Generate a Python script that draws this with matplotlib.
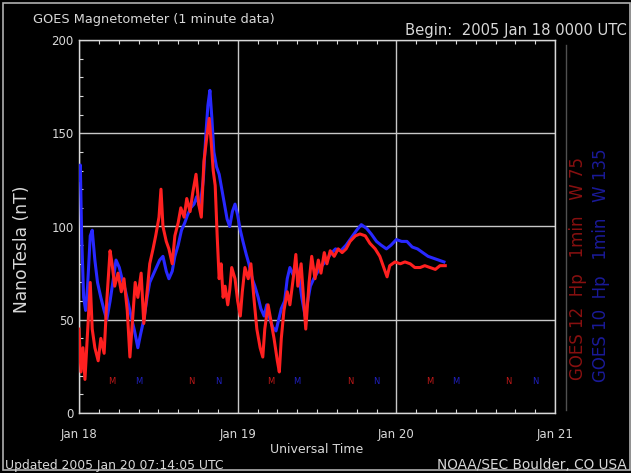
import numpy as np
import matplotlib.pyplot as plt
from matplotlib.ticker import MultipleLocator
from matplotlib.lines import Line2D
from matplotlib.patches import Rectangle

# hours after 2005 Jan 18 00 UT
red_hours = [0, 0.3, 0.6, 0.9, 1.4, 1.7, 2.0, 2.4, 2.9, 3.3, 3.8, 4.2, 4.7, 5.0, 5.4,
             5.9, 6.4, 6.8, 7.3, 7.7, 8.0, 8.5, 8.9, 9.4, 9.8, 10.3, 10.7, 11.2, 11.6,
             12.1, 12.4, 12.7, 13.2, 13.6, 14.1, 14.5, 15.0, 15.4, 15.9, 16.3, 16.8,
             17.2, 17.7, 18.1, 18.5, 18.9, 19.4, 19.7, 20.0, 20.3, 20.6, 20.9, 21.2,
             21.5, 21.8, 22.1, 22.5, 22.8, 23.1, 23.6, 24.0, 24.4, 24.7, 25.1, 25.6,
             26.0, 26.5, 26.9, 27.4, 27.8, 28.1, 28.6, 29.0, 29.5, 30.0, 30.3, 30.6,
             31.0, 31.5, 31.9, 32.4, 32.8, 33.1, 33.6, 34.0, 34.3, 34.8, 35.2, 35.7,
             36.2, 36.6, 37.1, 37.5, 38.0, 38.6, 39.2, 39.8, 40.4, 41.0, 41.8, 42.5,
             43.3, 44.0, 44.8, 45.5, 46.1, 46.6, 47.0, 47.8, 48.6, 49.3, 50.1, 50.8,
             51.6, 52.3, 53.1, 53.9, 54.6, 55.4]
red_nt = [45, 22, 35, 18, 50, 70, 45, 35, 28, 40, 32, 60, 87, 80, 68,
          75, 65, 72, 55, 30, 45, 70, 62, 75, 48, 65, 80, 88, 95,
          105, 120, 100, 92, 88, 80, 95, 102, 110, 105, 115, 108,
          118, 128, 112, 105, 135, 150, 158, 145, 130, 122, 95, 72,
          80, 62, 68, 58, 66, 78, 72, 60, 52, 65, 78, 72,
          80, 60, 45, 35, 30, 45, 58, 50, 40, 28, 22, 40,
          55, 65, 58, 72, 85, 68, 80, 60, 45, 70, 84, 72,
          82, 75, 86, 80, 87, 84, 88, 86, 88, 92, 95, 96,
          95, 91, 88, 84, 78, 73, 79, 81, 80, 81, 80, 78,
          78, 79, 78, 77, 79, 79]

blue_hours = [0, 0.2, 0.4, 0.7, 1.0, 1.3, 1.7, 2.0, 2.4, 2.8, 3.3, 3.8, 4.2, 4.7, 5.2,
              5.6, 6.1, 6.5, 7.0, 7.5, 8.0, 8.4, 8.9, 9.3, 9.8, 10.3, 10.7, 11.2, 11.7,
              12.2, 12.7, 13.2, 13.6, 14.1, 14.5, 15.0, 15.5, 16.0, 16.4, 16.9, 17.4,
              17.8, 18.3, 18.8, 19.2, 19.5, 19.8, 20.1, 20.4, 20.8, 21.2, 21.6, 22.0,
              22.4, 22.8, 23.2, 23.6, 24.0, 24.4, 24.8, 25.3, 25.7, 26.2, 26.6, 27.1,
              27.5, 28.0, 28.4, 28.9, 29.3, 29.8, 30.2, 30.6, 31.1, 31.5, 31.9, 32.4,
              32.8, 33.3, 33.7, 34.2, 34.6, 35.0, 35.5, 36.0, 36.5, 37.0, 37.5, 38.0,
              38.8, 39.6, 40.4, 41.2, 42.0, 42.7, 43.5, 44.2, 45.0, 45.7, 46.5, 47.2,
              48.0, 48.8, 49.6, 50.4, 51.2, 52.0, 52.8, 53.6, 54.4, 55.2]
blue_nt = [125, 133, 95, 62, 55, 68, 95, 98, 82, 70, 62, 55, 50, 60, 72,
           82, 78, 72, 66, 58, 50, 44, 35, 42, 50, 62, 70, 74, 78,
           82, 84, 76, 72, 76, 84, 90, 98, 102, 106, 110, 112,
           116, 110, 125, 150, 165, 173, 158, 140, 132, 128, 120, 112,
           104, 100, 108, 112, 106, 98, 92, 85, 80, 72, 68, 62,
           56, 52, 58, 50, 46, 44, 50, 56, 60, 72, 78, 74,
           80, 72, 62, 52, 60, 68, 72, 75, 78, 80, 82, 85,
           88, 87, 90, 94, 98, 101, 99, 96, 92, 90, 88, 90,
           93, 92, 92, 89, 88, 86, 84, 83, 82, 81]

# local midnight (M) / noon (N) markers
red_marks = [(5, 'M'), (17, 'N'), (29, 'M'), (41, 'N'), (53, 'M'), (65, 'N')]
blue_marks = [(9, 'M'), (21, 'N'), (33, 'M'), (45, 'N'), (57, 'M'), (69, 'N')]

day_labels = ['Jan 18', 'Jan 19', 'Jan 20', 'Jan 21']

RED = '#ff2020'
BLUE = '#2828ff'
FG = '#d8d8d8'

W, H = 631, 473
fig = plt.figure(figsize=(W / 100, H / 100), dpi=100, facecolor='black')
ax = fig.add_axes([79 / W, 1 - 413 / H, 476 / W, 373 / H], facecolor='black')

ax.plot(blue_hours, blue_nt, color=BLUE, lw=2.2, zorder=3)
ax.plot(red_hours, red_nt, color=RED, lw=2.2, zorder=4)

for h, s in red_marks:
    ax.text(h, 17, s, color='#c01818', fontsize=6, ha='center', va='center', zorder=5)
for h, s in blue_marks:
    ax.text(h, 17, s, color='#2020c0', fontsize=6, ha='center', va='center', zorder=5)

ax.set_xlim(0, 72)
ax.set_ylim(0, 200)
ax.set_xticks([0, 24, 48, 72])
ax.set_xticklabels(day_labels)
ax.xaxis.set_minor_locator(MultipleLocator(3))
ax.set_yticks([0, 50, 100, 150, 200])
ax.yaxis.set_minor_locator(MultipleLocator(10))
ax.tick_params(which='both', direction='in', colors=FG, labelcolor=FG,
               top=True, bottom=True, left=True, right=False, labelsize=8.5)
ax.tick_params(axis='x', which='major', length=0, pad=11)
ax.tick_params(axis='y', which='major', length=0, pad=4)
ax.tick_params(which='minor', length=3, width=0.8)
ax.grid(True, which='major', color='#c8c8c8', lw=1)
for sp in ax.spines.values():
    sp.set_color(FG)
    sp.set_linewidth(1)

ax.set_xlabel('Universal Time', color=FG, fontsize=9, labelpad=1)
ax.set_ylabel('NanoTesla (nT)', color=FG, fontsize=12.3)
ax.yaxis.set_label_coords(-0.101, 0.44)

fig.text(33 / W, 1 - 20 / H, 'GOES Magnetometer (1 minute data)', color=FG,
         fontsize=9.3, va='center', ha='left')
fig.text(405 / W, 1 - 30 / H, 'Begin:  2005 Jan 18 0000 UTC', color=FG,
         fontsize=10.6, va='center', ha='left')
fig.text(5 / W, 1 - 465 / H, 'Updated 2005 Jan 20 07:14:05 UTC', color=FG,
         fontsize=8.9, va='center', ha='left')
fig.text(627 / W, 1 - 465 / H, 'NOAA/SEC Boulder, CO USA', color=FG,
         fontsize=9.8, va='center', ha='right')

fig.text(578 / W, 1 - 268 / H, 'GOES 12  Hp   1min   W 75', color='#881010',
         fontsize=12, rotation=90, va='center', ha='center')
fig.text(601 / W, 1 - 265 / H, 'GOES 10  Hp   1min   W 135', color='#1a1a98',
         fontsize=12, rotation=90, va='center', ha='center')

fig.add_artist(Line2D([566 / W, 566 / W], [1 - 45 / H, 1 - 410 / H],
                      color='#505050', lw=1))
fig.add_artist(Rectangle((3 / W, 3 / H), 1 - 4 / W, 1 - 6 / H, fill=False,
                         edgecolor='#b0b0b0', lw=1.2))

fig.savefig('out.png', dpi=100, facecolor='black')
